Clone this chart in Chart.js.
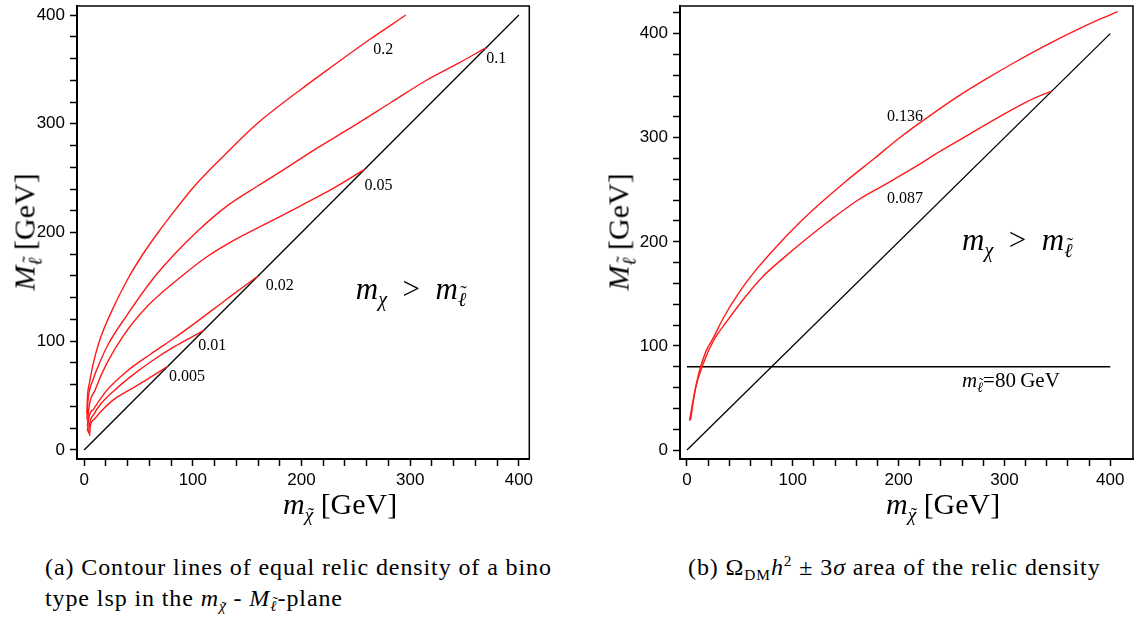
<!DOCTYPE html>
<html>
<head>
<meta charset="utf-8">
<script src="https://cdn.jsdelivr.net/npm/chart.js@4.4.1/dist/chart.umd.min.js"></script>
<style>
body{margin:0;background:#fff;width:1136px;height:621px;position:relative;overflow:hidden;font-family:"Liberation Serif",serif;color:#000}
canvas{position:absolute;top:0}
#cA{left:0}
#cB{left:600px}
.t{position:absolute;font-size:30px;line-height:30px;white-space:nowrap}
.yt{transform:translate(-50%,-50%) rotate(-90deg)}
.cap{position:absolute;font-size:24px;line-height:31px;letter-spacing:0.9px;white-space:nowrap}
.sb{font-size:64%;vertical-align:-0.35em;line-height:0}
.sp{font-size:64%;vertical-align:0.6em;line-height:0}
.tl,.tl2{position:relative;display:inline-block;line-height:1}
.tl::after,.tl2::after{content:'\02DC';position:absolute;left:0.16em;right:0;text-align:center;font-style:normal;line-height:1}
.tl::after{top:0.02em}
.tl2::after{top:-0.3em}
i{font-style:italic}
</style>
</head>
<body>
<canvas id="cA" width="545" height="495"></canvas>
<canvas id="cB" width="536" height="495"></canvas>

<div class="t" style="left:283px;top:489px"><i>m</i><span class="sb"><i class="tl">χ</i></span> [GeV]</div>
<div class="t" style="left:886px;top:489px"><i>m</i><span class="sb"><i class="tl">χ</i></span> [GeV]</div>
<div class="t yt" style="left:27px;top:232px"><i>M</i><span class="sb"><i class="tl2">ℓ</i></span> [GeV]</div>
<div class="t yt" style="left:621px;top:232px"><i>M</i><span class="sb"><i class="tl2">ℓ</i></span> [GeV]</div>

<div class="cap" style="left:45px;top:552px">(a) Contour lines of equal relic density of a bino<br>type lsp in the <i>m</i><span class="sb"><i class="tl">χ</i></span> - <i>M</i><span class="sb"><i class="tl2">ℓ</i></span>-plane</div>
<div class="cap" style="left:688px;top:552px">(b) Ω<span class="sb">DM</span><i>h</i><span class="sp">2</span> ± 3<i>σ</i> area of the relic density</div>

<script>
// ===== 資料 =====
const TICKS_400 = [0,20,40,60,80,100,120,140,160,180,200,220,240,260,280,300,320,340,360,380,400];
const TICKS_420 = [0,20,40,60,80,100,120,140,160,180,200,220,240,260,280,300,320,340,360,380,400,420];

// (a) 等殘餘密度等高線
const C_0005 = [[5,13],[5.5,21],[9,28],[15,35],[28,47],[43,56],[58,65],[77,77]];
const C_001  = [[4,15],[5,24],[9,33],[15,42],[28,55],[46,70],[64,83],[83,95],[101,105],[110,110]];
const C_002  = [[3,17],[4,28],[9,38],[21,55],[40,73],[61,88],[83,103],[101,116],[129,137],[145,149],[160,160]];
const C_005  = [[3,22],[4,36],[10,55],[20,78],[36,105],[59,133],[90,160],[112,177],[138,193],[171,210],[200,225],[230,241],[258,258]];
const C_01   = [[2.5,28],[3.5,45],[8,64],[15,82],[22,97],[38,122],[63,157],[85,182],[104,201],[131,224],[160,243],[184,258],[215,278],[248,298],[283,320],[315,340],[345,356],[370,370]];
const C_02   = [[2.5,33],[3,48],[5,62],[8,78],[14,100],[25,127],[40,157],[54,180],[68,200],[84,221],[100,241],[130,272],[159,300],[200,332],[230,354],[262,377],[296,400]];
const LEVELS_A = ['0.005','0.01','0.02','0.05','0.1','0.2'];

// (b) ±3σ 區間
const C_136 = [[2.4,28],[6,49],[11.5,75],[18,95],[25,108],[35,128],[49,151],[66,174],[86,197],[106,218],[126,237],[150,258],[177,280],[201,300],[228,320],[255,339],[282,356],[309,372],[336,387],[363,401],[386,412],[407,421]];
const C_087 = [[3.4,29],[8,59],[15,82],[25,105],[38,124],[55,147],[72,167],[93,186],[113,203],[133,219],[160,239],[187,255],[214,271],[241,288],[268,304],[295,320],[322,335],[345,345]];
const LEVELS_B = ['0.136','0.087'];

const DIAG = [[0,0],[400,400]];
const LIMIT = [[0,80],[400,80]];

// ===== 樣式 =====
const SERIF = '"Liberation Serif", serif';
const SANS = '"Liberation Sans", Arial, sans-serif';
const RED = '#ff1a1a';

const toXY = a => a.map(([x,y])=>({x,y}));
const red = d => ({data:toXY(d), borderColor:RED, borderWidth:1.4, showLine:true, pointRadius:0, cubicInterpolationMode:'monotone'});
const blk = d => ({data:toXY(d), borderColor:'#000', borderWidth:1.3, showLine:true, pointRadius:0, tension:0});

function axis(min, max, ticksArr, pad, fit){
  return {
    type:'linear', min, max,
    grid:{display:true, drawOnChartArea:false, drawTicks:true, tickLength:7, tickWidth:1.5, tickColor:'#000'},
    border:{display:true, color:'#000', width:2},
    afterBuildTicks:s=>{ s.ticks = ticksArr.map(v=>({value:v})); },
    afterFit:s=>{ fit(s); s.paddingTop=0; s.paddingBottom=0; s.paddingLeft=0; s.paddingRight=0; },
    ticks:{autoSkip:false, maxRotation:0, padding:pad, color:'#000', font:{family:SANS, size:17},
      callback:v=> v%100===0 ? String(v) : ''}
  };
}

// 外框：上、右兩邊
const frame = {id:'frame', afterDraw(c){
  const {ctx, chartArea:{left,right,top,bottom}} = c;
  ctx.save(); ctx.strokeStyle='#000'; ctx.lineWidth=1.5;
  ctx.beginPath(); ctx.moveTo(left,top); ctx.lineTo(right,top); ctx.lineTo(right,bottom); ctx.stroke();
  ctx.restore();
}};

// 圖內文字（以資料座標定位）；第 4 欄 = 波浪號位移 (em)
const notes = {id:'notes', afterDatasetsDraw(c, args, opts){
  const {ctx, scales:{x,y}} = c;
  ctx.save(); ctx.fillStyle='#000'; ctx.textBaseline='alphabetic';
  (opts.items||[]).forEach(it=>{
    let px = x.getPixelForValue(it.x); const py = y.getPixelForValue(it.y);
    it.parts.forEach(([t,f,dy,tl])=>{
      ctx.font=f; ctx.textAlign='left';
      const w = ctx.measureText(t).width;
      ctx.fillText(t, px, py+(dy||0));
      if (tl!==undefined){
        const sz = parseFloat(f.match(/(\d+(\.\d+)?)px/)[1]);
        ctx.font = `${sz}px ${SERIF}`; ctx.textAlign='center';
        ctx.fillText('\u02DC', px+w/2+sz*0.08, py+(dy||0)+tl*sz);
      }
      px += w;
    });
  });
  ctx.restore();
}};

const num = `16px ${SERIF}`;
const bigI = `italic 31px ${SERIF}`, big = `31px ${SERIF}`, subI = `italic 20px ${SERIF}`;
const relation = [['m',bigI],['χ',subI,7],['  >  ',big],['m',bigI],['ℓ',subI,7,-0.28]];

const baseOpts = (sx, sy, pad, items) => ({
  responsive:false, animation:false,
  layout:{padding:pad},
  plugins:{legend:{display:false}, tooltip:{enabled:false}, notes:{items}},
  scales:{x:sx, y:sy}
});

new Chart(document.getElementById('cA'), {
  type:'scatter',
  data:{datasets:[red(C_0005),red(C_001),red(C_002),red(C_005),red(C_01),red(C_02),blk(DIAG)]},
  options:baseOpts(
    axis(-6.6, 409.6, TICKS_400, 4, s=>{s.height=36;}),
    axis(-8.3, 408.3, TICKS_400, 5, s=>{s.width=77;}),
    {top:6, right:15.7, left:0, bottom:0},
    [
      {x:78, y:63, parts:[[LEVELS_A[0],num]]},
      {x:105, y:92, parts:[[LEVELS_A[1],num]]},
      {x:167, y:147, parts:[[LEVELS_A[2],num]]},
      {x:258, y:239, parts:[[LEVELS_A[3],num]]},
      {x:370, y:356, parts:[[LEVELS_A[4],num]]},
      {x:266, y:364, parts:[[LEVELS_A[5],num]]},
      {x:250, y:139, parts:relation}
    ]),
  plugins:[frame, notes]
});

new Chart(document.getElementById('cB'), {
  type:'scatter',
  data:{datasets:[red(C_136),red(C_087),blk(DIAG),blk(LIMIT)]},
  options:baseOpts(
    axis(-6.6, 421.5, TICKS_400, 4, s=>{s.height=36;}),
    axis(-8.6, 426.5, TICKS_420, 5, s=>{s.width=80;}),
    {top:6, right:3, left:0, bottom:0},
    [
      {x:189, y:316, parts:[[LEVELS_B[0],num]]},
      {x:189, y:237, parts:[[LEVELS_B[1],num]]},
      {x:260, y:192, parts:relation},
      {x:260, y:61, parts:[['m',`italic 21px ${SERIF}`],['ℓ',`italic 14px ${SERIF}`,5,-0.28],['=80\u2009GeV',`21px ${SERIF}`]]}
    ]),
  plugins:[frame, notes]
});
</script>
</body>
</html>
